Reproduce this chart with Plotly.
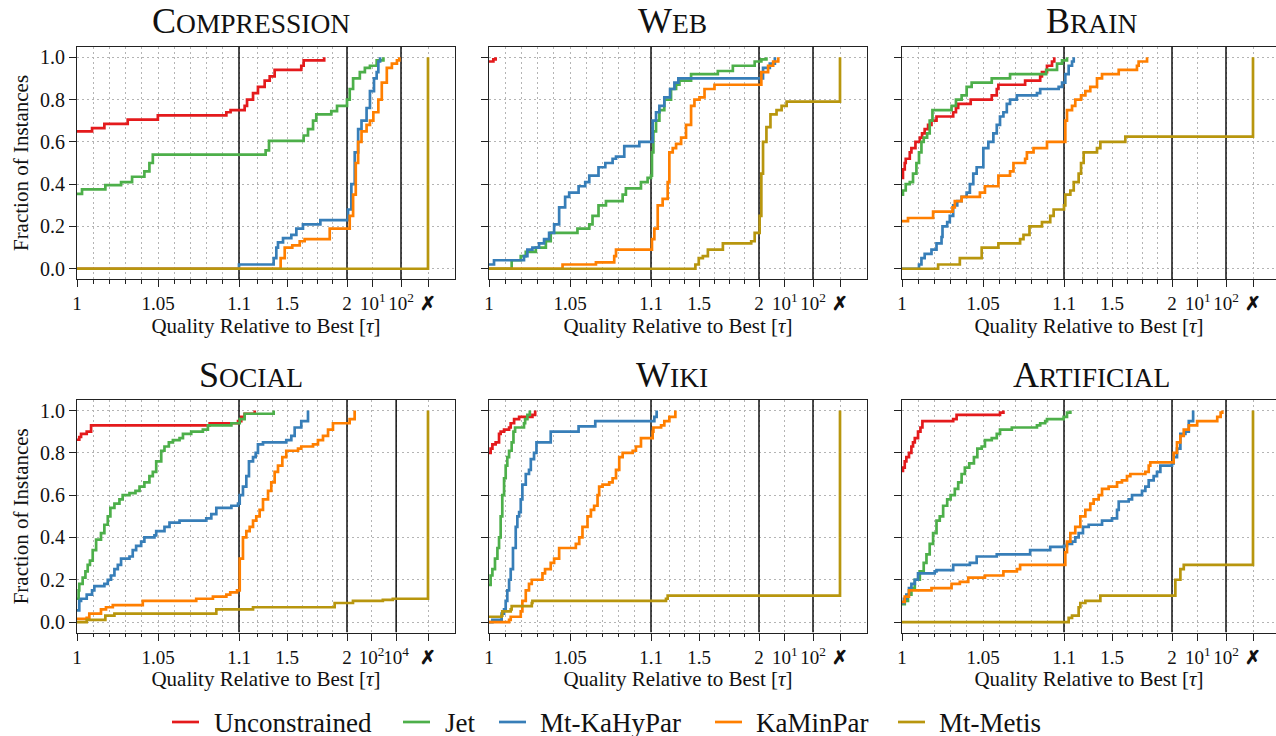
import math
import plotly.graph_objects as go

INF = float("inf")

# ---------------- data: (tau, fraction of instances) step points ----------------
panel_titles = ["Compression", "Web", "Brain", "Social", "Wiki", "Artificial"]
algorithms = ["Unconstrained", "Jet", "Mt-KaHyPar", "KaMinPar", "Mt-Metis"]
colors = ["#e41a1c", "#4daf4a", "#377eb8", "#ff7f00", "#b8960e"]

compression_unconstrained = [(1.0, 0.65), (1.0093, 0.665), (1.0169, 0.685), (1.0313, 0.705), (1.0499, 0.725), (1.0922, 0.74), (1.0948, 0.75), (1.147, 0.77), (1.167, 0.80), (1.217, 0.83), (1.258, 0.86), (1.314, 0.89), (1.356, 0.91), (1.397, 0.94), (1.619, 0.96), (1.639, 0.985), (1.81, 1.0)]
compression_jet = [(1.0, 0.354), (1.0031, 0.375), (1.0175, 0.395), (1.0272, 0.41), (1.034, 0.435), (1.0416, 0.46), (1.0447, 0.5), (1.0468, 0.54), (1.322, 0.56), (1.35, 0.605), (1.639, 0.63), (1.675, 0.66), (1.717, 0.70), (1.744, 0.73), (1.869, 0.745), (1.917, 0.77), (2.0, 0.80), (2.26, 0.85), (2.68, 0.90), (3.98, 0.93), (5.58, 0.95), (8.05, 0.96), (13.5, 0.985), (23.2, 1.0)]
compression_kahypar = [(1.0, 0.0), (1.1, 0.02), (1.389, 0.05), (1.411, 0.10), (1.425, 0.125), (1.467, 0.145), (1.536, 0.16), (1.578, 0.19), (1.633, 0.21), (1.778, 0.23), (2.09, 0.28), (2.45, 0.40), (2.93, 0.55), (3.58, 0.66), (4.44, 0.70), (6.29, 0.76), (8.05, 0.84), (10.95, 0.90), (13.5, 0.93), (15.4, 0.98), (17.7, 1.0)]
compression_kaminpar = [(1.0, 0.0), (1.447, 0.05), (1.481, 0.10), (1.544, 0.11), (1.606, 0.13), (1.647, 0.14), (1.856, 0.19), (2.26, 0.25), (2.68, 0.35), (3.11, 0.50), (3.58, 0.60), (4.44, 0.65), (6.29, 0.68), (8.05, 0.70), (10.4, 0.74), (15.4, 0.80), (20.3, 0.88), (30.6, 0.95), (46.6, 0.97), (71.0, 0.985), (86.8, 1.0)]
compression_metis = [(1.0, 0.0), (INF, 1.0)]

web_unconstrained = [(1.0, 0.98), (1.0027, 0.99), (1.0041, 1.0)]
web_jet = [(1.0, 0.0), (1.014, 0.04), (1.0196, 0.06), (1.0227, 0.08), (1.0289, 0.10), (1.0351, 0.13), (1.0381, 0.17), (1.0546, 0.19), (1.0619, 0.21), (1.0639, 0.25), (1.0676, 0.30), (1.0722, 0.32), (1.0825, 0.35), (1.0845, 0.38), (1.0938, 0.41), (1.0979, 0.43), (1.1, 0.44), (1.108, 0.55), (1.12, 0.65), (1.142, 0.70), (1.17, 0.75), (1.211, 0.80), (1.267, 0.85), (1.309, 0.87), (1.337, 0.89), (1.434, 0.92), (1.657, 0.935), (1.782, 0.96), (1.964, 0.98), (2.22, 0.99), (2.88, 1.0)]
web_kahypar = [(1.0, 0.02), (1.0031, 0.04), (1.0216, 0.06), (1.0237, 0.09), (1.0268, 0.10), (1.0309, 0.12), (1.034, 0.14), (1.0371, 0.17), (1.0402, 0.21), (1.0433, 0.29), (1.047, 0.34), (1.0495, 0.36), (1.0553, 0.39), (1.0594, 0.41), (1.0619, 0.44), (1.0676, 0.48), (1.0718, 0.50), (1.0763, 0.52), (1.0784, 0.53), (1.0835, 0.58), (1.0928, 0.60), (1.114, 0.70), (1.142, 0.74), (1.17, 0.77), (1.211, 0.81), (1.259, 0.85), (1.295, 0.88), (1.328, 0.90), (2.41, 0.95), (3.51, 0.97), (4.86, 1.0)]
web_kaminpar = [(1.0, 0.0), (1.0454, 0.02), (1.066, 0.03), (1.0773, 0.06), (1.0784, 0.09), (1.108, 0.14), (1.128, 0.19), (1.156, 0.30), (1.197, 0.33), (1.239, 0.41), (1.253, 0.55), (1.281, 0.57), (1.309, 0.59), (1.351, 0.62), (1.392, 0.68), (1.434, 0.77), (1.462, 0.80), (1.504, 0.81), (1.546, 0.85), (1.629, 0.87), (2.22, 0.93), (3.17, 0.96), (4.34, 0.98), (6.14, 1.0)]
web_metis = [(1.0, 0.0), (1.47, 0.02), (1.498, 0.05), (1.532, 0.06), (1.574, 0.09), (1.699, 0.12), (1.935, 0.13), (1.964, 0.17), (2.06, 0.25), (2.22, 0.45), (2.41, 0.60), (2.88, 0.67), (3.65, 0.73), (5.45, 0.75), (7.85, 0.77), (11.5, 0.79), (INF, 1.0)]

brain_unconstrained = [(1.0, 0.43), (1.0006, 0.47), (1.0017, 0.50), (1.0023, 0.52), (1.0048, 0.55), (1.0058, 0.57), (1.0083, 0.60), (1.011, 0.62), (1.0124, 0.64), (1.014, 0.66), (1.0161, 0.68), (1.0182, 0.70), (1.0213, 0.72), (1.0316, 0.74), (1.0333, 0.76), (1.0347, 0.78), (1.0424, 0.80), (1.0554, 0.82), (1.0585, 0.85), (1.0595, 0.87), (1.076, 0.89), (1.0853, 0.91), (1.0864, 0.93), (1.0895, 0.96), (1.0926, 0.98), (1.094, 1.0)]
brain_jet = [(1.0, 0.35), (1.0006, 0.37), (1.0023, 0.40), (1.0048, 0.41), (1.0068, 0.45), (1.0089, 0.50), (1.0105, 0.55), (1.012, 0.60), (1.0134, 0.62), (1.0155, 0.64), (1.0171, 0.70), (1.0188, 0.75), (1.0306, 0.77), (1.0333, 0.80), (1.0368, 0.82), (1.0399, 0.86), (1.043, 0.88), (1.0554, 0.90), (1.0667, 0.92), (1.089, 0.94), (1.0957, 0.97), (1.0988, 0.985), (1.125, 1.0)]
brain_kahypar = [(1.0, 0.0), (1.0105, 0.02), (1.012, 0.05), (1.014, 0.07), (1.0182, 0.09), (1.0213, 0.12), (1.0244, 0.15), (1.025, 0.20), (1.0279, 0.22), (1.0295, 0.25), (1.0316, 0.30), (1.0341, 0.32), (1.0368, 0.34), (1.0399, 0.36), (1.0419, 0.40), (1.044, 0.45), (1.0461, 0.48), (1.0502, 0.57), (1.0533, 0.60), (1.0564, 0.64), (1.0585, 0.68), (1.0605, 0.72), (1.0626, 0.74), (1.0647, 0.78), (1.0667, 0.80), (1.0709, 0.82), (1.0833, 0.83), (1.0853, 0.85), (1.0967, 0.86), (1.0988, 0.88), (1.111, 0.92), (1.139, 0.96), (1.167, 0.98), (1.181, 1.0)]
brain_kaminpar = [(1.0, 0.225), (1.0037, 0.24), (1.0192, 0.27), (1.0312, 0.29), (1.0326, 0.32), (1.0368, 0.34), (1.0481, 0.36), (1.0512, 0.39), (1.0595, 0.44), (1.0667, 0.46), (1.0688, 0.50), (1.076, 0.52), (1.0771, 0.55), (1.0812, 0.57), (1.0895, 0.60), (1.111, 0.70), (1.125, 0.75), (1.167, 0.77), (1.194, 0.80), (1.242, 0.82), (1.278, 0.84), (1.319, 0.86), (1.375, 0.90), (1.417, 0.92), (1.556, 0.94), (1.708, 0.96), (1.722, 0.98), (1.792, 1.0)]
brain_metis = [(1.0, 0.0), (1.0223, 0.02), (1.0357, 0.05), (1.0492, 0.10), (1.0595, 0.12), (1.0729, 0.14), (1.075, 0.16), (1.0787, 0.20), (1.0864, 0.22), (1.0915, 0.25), (1.0936, 0.28), (1.1, 0.30), (1.111, 0.35), (1.153, 0.37), (1.181, 0.41), (1.222, 0.45), (1.242, 0.50), (1.264, 0.55), (1.375, 0.57), (1.403, 0.60), (1.611, 0.625), (INF, 1.0)]

social_unconstrained = [(1.0, 0.862), (1.0014, 0.875), (1.0025, 0.89), (1.006, 0.90), (1.0087, 0.93), (1.0819, 0.94), (1.0994, 0.95), (1.119, 0.97), (1.147, 0.985), (1.231, 1.0)]
social_jet = [(1.0, 0.11), (1.001, 0.15), (1.0014, 0.18), (1.0035, 0.21), (1.0052, 0.24), (1.0066, 0.27), (1.008, 0.29), (1.0097, 0.34), (1.0118, 0.39), (1.0148, 0.42), (1.0169, 0.46), (1.019, 0.50), (1.0206, 0.54), (1.0231, 0.56), (1.0262, 0.58), (1.0282, 0.60), (1.0324, 0.61), (1.0361, 0.62), (1.0386, 0.64), (1.0416, 0.66), (1.0447, 0.69), (1.0468, 0.71), (1.0489, 0.76), (1.052, 0.81), (1.054, 0.83), (1.0567, 0.85), (1.0592, 0.86), (1.0633, 0.87), (1.0654, 0.89), (1.0705, 0.90), (1.0777, 0.91), (1.0808, 0.93), (1.0953, 0.94), (1.106, 0.96), (1.147, 0.985), (1.389, 1.0)]
social_kahypar = [(1.0, 0.055), (1.0014, 0.10), (1.0025, 0.11), (1.006, 0.13), (1.0093, 0.15), (1.0107, 0.17), (1.0169, 0.18), (1.019, 0.20), (1.021, 0.22), (1.0231, 0.25), (1.0252, 0.27), (1.0272, 0.30), (1.0324, 0.31), (1.0344, 0.34), (1.0365, 0.36), (1.0396, 0.38), (1.0416, 0.40), (1.0478, 0.41), (1.0489, 0.43), (1.054, 0.45), (1.0571, 0.47), (1.0633, 0.48), (1.0798, 0.49), (1.0829, 0.51), (1.086, 0.54), (1.0953, 0.55), (1.0994, 0.56), (1.106, 0.60), (1.133, 0.64), (1.161, 0.69), (1.183, 0.76), (1.217, 0.78), (1.239, 0.80), (1.258, 0.84), (1.3, 0.85), (1.494, 0.86), (1.536, 0.88), (1.564, 0.92), (1.619, 0.95), (1.675, 1.0)]
social_kaminpar = [(1.0, 0.015), (1.006, 0.02), (1.0076, 0.04), (1.0148, 0.06), (1.0179, 0.07), (1.0221, 0.08), (1.0406, 0.10), (1.0736, 0.11), (1.0839, 0.12), (1.0922, 0.13), (1.0946, 0.14), (1.0988, 0.15), (1.106, 0.30), (1.133, 0.40), (1.161, 0.43), (1.189, 0.45), (1.217, 0.48), (1.244, 0.50), (1.272, 0.53), (1.3, 0.58), (1.342, 0.62), (1.369, 0.66), (1.397, 0.71), (1.425, 0.74), (1.461, 0.78), (1.494, 0.81), (1.592, 0.82), (1.619, 0.83), (1.717, 0.84), (1.758, 0.86), (1.8, 0.88), (1.842, 0.91), (1.883, 0.94), (2.65, 0.96), (5.19, 1.0)]
social_metis = [(1.0, 0.0), (1.006, 0.01), (1.0175, 0.03), (1.0231, 0.04), (1.086, 0.06), (1.217, 0.07), (1.897, 0.09), (4.06, 0.10), (830.0, 0.105), (5381.0, 0.11), (INF, 1.0)]

wiki_unconstrained = [(1.0, 0.80), (1.001, 0.82), (1.0021, 0.84), (1.0041, 0.85), (1.0062, 0.89), (1.0072, 0.90), (1.0093, 0.91), (1.0124, 0.92), (1.0134, 0.94), (1.0155, 0.96), (1.0186, 0.97), (1.0268, 0.98), (1.0285, 1.0)]
wiki_jet = [(1.0, 0.175), (1.001, 0.22), (1.0021, 0.25), (1.0037, 0.30), (1.0052, 0.35), (1.0062, 0.40), (1.0072, 0.50), (1.0082, 0.60), (1.0093, 0.68), (1.0103, 0.74), (1.0113, 0.78), (1.0124, 0.81), (1.014, 0.85), (1.0151, 0.90), (1.0161, 0.92), (1.0216, 0.94), (1.0223, 0.96), (1.0237, 0.98), (1.0252, 1.0)]
wiki_kahypar = [(1.0, 0.0), (1.0021, 0.01), (1.0078, 0.04), (1.0093, 0.06), (1.0103, 0.10), (1.0113, 0.15), (1.0124, 0.20), (1.0134, 0.25), (1.0148, 0.35), (1.0165, 0.45), (1.0175, 0.50), (1.0186, 0.52), (1.0196, 0.58), (1.0206, 0.65), (1.0227, 0.70), (1.0247, 0.72), (1.0258, 0.77), (1.0278, 0.80), (1.0293, 0.85), (1.0381, 0.90), (1.0553, 0.925), (1.0656, 0.95), (1.128, 0.97), (1.147, 1.0)]
wiki_kaminpar = [(1.0, 0.0), (1.0124, 0.01), (1.0134, 0.025), (1.0196, 0.05), (1.0206, 0.10), (1.0227, 0.15), (1.0247, 0.18), (1.0264, 0.20), (1.033, 0.23), (1.0346, 0.25), (1.0381, 0.28), (1.0402, 0.30), (1.0433, 0.35), (1.0536, 0.37), (1.0557, 0.40), (1.0577, 0.45), (1.0608, 0.50), (1.0629, 0.53), (1.0649, 0.55), (1.067, 0.60), (1.068, 0.64), (1.0701, 0.65), (1.0742, 0.66), (1.0763, 0.68), (1.0784, 0.72), (1.0804, 0.78), (1.0825, 0.80), (1.0887, 0.81), (1.0907, 0.83), (1.0938, 0.87), (1.114, 0.90), (1.12, 0.92), (1.184, 0.93), (1.211, 0.95), (1.253, 0.97), (1.303, 1.0)]
wiki_metis = [(1.0, 0.025), (1.0078, 0.03), (1.0082, 0.05), (1.0134, 0.06), (1.014, 0.075), (1.0264, 0.09), (1.0268, 0.10), (1.225, 0.11), (1.239, 0.125), (INF, 1.0)]

artificial_unconstrained = [(1.0, 0.715), (1.0006, 0.73), (1.0017, 0.76), (1.0027, 0.78), (1.0043, 0.80), (1.0058, 0.83), (1.0068, 0.85), (1.0079, 0.87), (1.0099, 0.90), (1.0114, 0.92), (1.0126, 0.95), (1.0316, 0.96), (1.0337, 0.98), (1.0605, 0.99), (1.0626, 1.0)]
artificial_jet = [(1.0, 0.085), (1.0017, 0.10), (1.0037, 0.13), (1.0058, 0.16), (1.0079, 0.20), (1.011, 0.24), (1.0134, 0.28), (1.0151, 0.32), (1.0171, 0.37), (1.0192, 0.42), (1.0213, 0.48), (1.0233, 0.50), (1.0254, 0.55), (1.0279, 0.58), (1.03, 0.60), (1.0326, 0.63), (1.0347, 0.66), (1.0368, 0.70), (1.0388, 0.73), (1.0415, 0.75), (1.0444, 0.78), (1.0465, 0.82), (1.0492, 0.83), (1.0512, 0.86), (1.0554, 0.87), (1.0585, 0.89), (1.0605, 0.91), (1.0678, 0.92), (1.0833, 0.93), (1.0853, 0.94), (1.0884, 0.95), (1.0895, 0.96), (1.0998, 0.97), (1.125, 0.99), (1.153, 1.0)]
artificial_kahypar = [(1.0, 0.09), (1.0012, 0.11), (1.0027, 0.13), (1.0043, 0.16), (1.0058, 0.18), (1.0079, 0.20), (1.0099, 0.23), (1.0202, 0.24), (1.0213, 0.245), (1.0316, 0.27), (1.0419, 0.28), (1.0461, 0.31), (1.0585, 0.32), (1.0791, 0.34), (1.0915, 0.355), (1.1, 0.36), (1.125, 0.37), (1.167, 0.38), (1.194, 0.40), (1.222, 0.42), (1.258, 0.45), (1.306, 0.46), (1.417, 0.48), (1.5, 0.49), (1.542, 0.53), (1.556, 0.57), (1.639, 0.58), (1.667, 0.60), (1.75, 0.62), (1.778, 0.64), (1.806, 0.67), (1.847, 0.69), (1.875, 0.71), (1.903, 0.74), (2.0, 0.75), (2.15, 0.78), (2.53, 0.82), (3.04, 0.89), (4.13, 0.90), (5.17, 0.95), (7.04, 1.0)]
artificial_kaminpar = [(1.0, 0.095), (1.0017, 0.12), (1.0043, 0.15), (1.0182, 0.16), (1.0306, 0.18), (1.0357, 0.19), (1.0409, 0.21), (1.0512, 0.22), (1.0626, 0.24), (1.0709, 0.25), (1.0729, 0.27), (1.111, 0.33), (1.125, 0.38), (1.153, 0.42), (1.194, 0.45), (1.236, 0.50), (1.278, 0.53), (1.319, 0.56), (1.347, 0.58), (1.389, 0.60), (1.417, 0.63), (1.472, 0.64), (1.542, 0.66), (1.583, 0.67), (1.625, 0.69), (1.653, 0.70), (1.778, 0.71), (1.806, 0.74), (1.819, 0.755), (2.15, 0.80), (2.53, 0.85), (3.04, 0.88), (3.72, 0.91), (5.17, 0.93), (9.5, 0.95), (48.0, 0.97), (63.8, 0.99), (73.3, 1.0)]
artificial_metis = [(1.0, 0.0), (1.139, 0.02), (1.167, 0.03), (1.222, 0.07), (1.236, 0.09), (1.278, 0.10), (1.403, 0.125), (2.33, 0.20), (3.04, 0.25), (3.72, 0.27), (INF, 1.0)]

panel_series = [
    [compression_unconstrained, compression_jet, compression_kahypar, compression_kaminpar, compression_metis],
    [web_unconstrained, web_jet, web_kahypar, web_kaminpar, web_metis],
    [brain_unconstrained, brain_jet, brain_kahypar, brain_kaminpar, brain_metis],
    [social_unconstrained, social_jet, social_kahypar, social_kaminpar, social_metis],
    [wiki_unconstrained, wiki_jet, wiki_kahypar, wiki_kaminpar, wiki_metis],
    [artificial_unconstrained, artificial_jet, artificial_kahypar, artificial_kaminpar, artificial_metis],
]

# upper end of the logarithmic segment per panel and its tick labels
log_segment_max = [100, 100, 100, 10000, 100, 100]
log_tick_values = [[10, 100], [10, 100], [10, 100], [100, 10000], [10, 100], [10, 100]]
log_tick_labels = [["10<sup>1</sup>", "10<sup>2</sup>"]] * 3 + [["10<sup>2</sup>", "10<sup>4</sup>"]] + [["10<sup>1</sup>", "10<sup>2</sup>"]] * 2
log_segment_width = [1.0, 1.0, 1.0, 0.91, 1.0, 1.0]
linear_ticks = [1.0, 1.05, 1.1, 1.5, 2.0]
linear_tick_labels = ["1", "1.05", "1.1", "1.5", "2"]
minor_ticks_seg0 = [1.01, 1.02, 1.03, 1.04, 1.06, 1.07, 1.08, 1.09]
minor_ticks_seg1 = [1.25, 1.375, 1.625, 1.75, 1.875]
y_ticks = [0.0, 0.2, 0.4, 0.6, 0.8, 1.0]

# ---------------- piecewise axis transform ----------------
X_INFEASIBLE = 6.5


def to_axis(tau, p):
    if math.isinf(tau):
        return X_INFEASIBLE
    if tau <= 1.1:
        return (tau - 1.0) / 0.1 * 3.0
    if tau <= 2.0:
        return 3.0 + (tau - 1.1) / 0.9 * 2.0
    return 5.0 + math.log10(tau - 1.0) / math.log10(log_segment_max[p] - 1.0) * log_segment_width[p]


W, H = 1276, 736
col_left = [77, 489, 902]
title_center = [251, 672, 1091]
row_top = [46.7, 400.0]
plot_w, plot_h = 378, 232.6
UNIT = plot_w / 7.0

FONT = "Liberation Serif, Times New Roman, Times, serif"
AX = "#222222"
GRID = "#b4b4b4"
DOT = "2px,3px"
TXT = "#111111"

fig = go.Figure()
layout = dict(
    width=W, height=H, margin=dict(l=0, r=0, t=0, b=0, autoexpand=False),
    paper_bgcolor="white", plot_bgcolor="white",
    font=dict(family=FONT, color=TXT, size=18),
    showlegend=False,
)
shapes = []
annotations = []

for p in range(6):
    r, c = divmod(p, 3)
    n = p + 1
    xa = "x" if n == 1 else f"x{n}"
    ya = "y" if n == 1 else f"y{n}"
    x0 = col_left[c]
    x1 = min(x0 + plot_w, W)
    xmax = (x1 - x0) / UNIT
    ytop = row_top[r]
    ybot = ytop + plot_h

    # segment boundaries (1.1, 2, end of log segment) drawn beneath the curves
    for bx in [3.0, 5.0, 5.0 + log_segment_width[p]]:
        fig.add_trace(go.Scatter(x=[bx, bx], y=[-0.05, 1.05], mode="lines",
                                 line=dict(color="black", width=1.4), showlegend=False,
                                 xaxis=xa, yaxis=ya, hoverinfo="skip"))

    for a, pts in enumerate(panel_series[p]):
        fig.add_trace(go.Scatter(
            x=[to_axis(t, p) for t, _ in pts], y=[f for _, f in pts],
            mode="lines", line=dict(color=colors[a], width=2.7, shape="hv"),
            name=algorithms[a], showlegend=False,
            xaxis=xa, yaxis=ya, hoverinfo="skip"))

    major_vals = [to_axis(v, p) for v in linear_ticks] + [to_axis(v, p) for v in log_tick_values[p]] + [X_INFEASIBLE]
    major_text = linear_tick_labels + log_tick_labels[p] + ["<b>✗</b>"]
    minor_vals = [to_axis(v, p) for v in minor_ticks_seg0 + minor_ticks_seg1]

    layout["xaxis" if n == 1 else f"xaxis{n}"] = dict(
        domain=[x0 / W, x1 / W], range=[0, xmax], anchor=ya, automargin=False,
        tickmode="array", tickvals=major_vals, ticktext=major_text, tickangle=0,
        ticks="outside", ticklen=7, tickwidth=1, tickcolor=AX,
        tickfont=dict(family=FONT, size=19, color=TXT),
        showline=True, linecolor=AX, linewidth=1.2, mirror=True,
        showgrid=True, gridcolor=GRID, griddash=DOT, gridwidth=1,
        minor=dict(tickmode="array", tickvals=minor_vals, ticks="outside", ticklen=3.5, tickwidth=1,
                   tickcolor=AX, showgrid=True, gridcolor=GRID, griddash=DOT, gridwidth=1),
        zeroline=False, fixedrange=True,
        title=dict(text="Quality Relative to Best [<i>τ</i>]", font=dict(family=FONT, size=21, color=TXT), standoff=0),
    )
    ycfg = dict(
        domain=[1 - ybot / H, 1 - ytop / H], range=[-0.05, 1.05], anchor=xa, automargin=False,
        tickmode="array", tickvals=y_ticks, ticktext=[f"{v:.1f}" for v in y_ticks],
        showticklabels=(c == 0),
        ticks="outside", ticklen=7, tickwidth=1, tickcolor=AX,
        tickfont=dict(family=FONT, size=20, color=TXT),
        showline=True, linecolor=AX, linewidth=1.2, mirror=(c != 2),
        showgrid=True, gridcolor=GRID, griddash=DOT, gridwidth=1,
        zeroline=False, fixedrange=True,
    )
    if c == 0:
        ycfg["title"] = dict(text="Fraction of Instances", font=dict(family=FONT, size=21, color=TXT), standoff=5)
    layout["yaxis" if n == 1 else f"yaxis{n}"] = ycfg

    word = panel_titles[p]
    annotations.append(dict(
        text=word[0] + f"<span style='font-size:27.5px'>{word[1:].upper()}</span>",
        xref="paper", yref="paper", x=title_center[c] / W, y=1 - (ytop - 25.5) / H,
        xanchor="center", yanchor="middle", showarrow=False,
        font=dict(family=FONT, size=36, color=TXT)))

# ---------------- legend (drawn below the panels) ----------------
legend_line_x = [172, 403, 499, 715, 898]
legend_text_x = [212, 443, 538, 754, 937]
LEG_LINE_Y = 722
LEG_TEXT_Y = 723
for a in range(5):
    shapes.append(dict(type="line", xref="paper", yref="paper",
                       x0=legend_line_x[a] / W, x1=(legend_line_x[a] + 27) / W,
                       y0=1 - LEG_LINE_Y / H, y1=1 - LEG_LINE_Y / H,
                       line=dict(color=colors[a], width=2.7)))
    annotations.append(dict(text=algorithms[a], xref="paper", yref="paper",
                            x=legend_text_x[a] / W, y=1 - LEG_TEXT_Y / H,
                            xanchor="left", yanchor="middle", showarrow=False,
                            font=dict(family=FONT, size=27, color=TXT)))

layout["shapes"] = shapes
layout["annotations"] = annotations
fig.update_layout(**layout)
fig.write_html("out.html", include_plotlyjs=True, config={"displayModeBar": False})
